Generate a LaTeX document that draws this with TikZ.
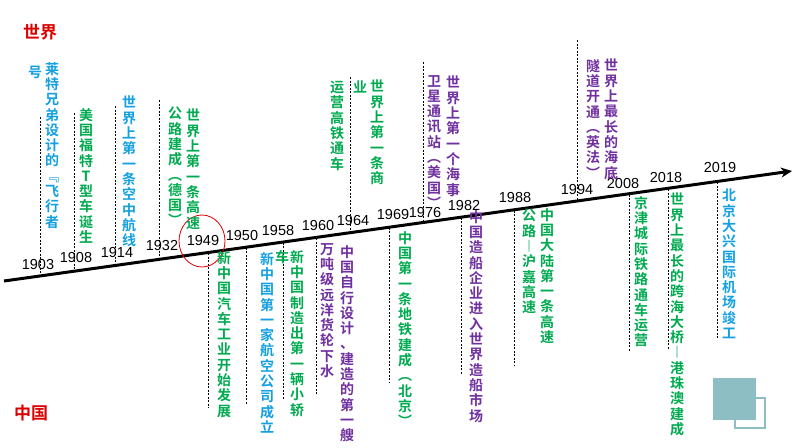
\documentclass[tikz,border=0pt]{standalone}
\usepackage{fontspec}
\setmainfont{Liberation Sans}
\newfontfamily\cjkb[BoldFont=*]{Noto Sans CJK SC Bold}
\usetikzlibrary{arrows.meta}
\makeatletter
\def\vt#1{\vt@@#1\relax}
\def\vt@@#1{#1\vt@}
\def\vt@#1{\ifx\relax#1\expandafter\@gobble\else\expandafter\@firstofone\fi{\\#1\vt@}}
\makeatother
\definecolor{cg}{RGB}{0,170,80}
\definecolor{cb}{RGB}{20,160,225}
\definecolor{cp}{RGB}{112,48,160}
\definecolor{cr}{RGB}{220,0,0}
\definecolor{ct}{RGB}{140,190,196}
\tikzset{
 vtx/.style={anchor=north, inner sep=0pt, text width=15pt, align=center, font=\cjkb\fontsize{14}{15.3}\selectfont},
 gr/.style={vtx, text=cg}, bl/.style={vtx, text=cb}, pu/.style={vtx, text=cp},
 dl/.style={draw=black, line width=0.7pt, dash pattern=on 2pt off 1.5pt},
 yr/.style={inner sep=0pt, font=\fontsize{14.5}{15}\selectfont},
 lab/.style={inner sep=0pt, text=cr, font=\cjkb\fontsize{17}{18}\selectfont}
}
\begin{document}
\begin{tikzpicture}[x=1pt,y=-1pt]
\useasboundingbox (0,0) rectangle (794,447);
\fill[white] (0,0) rectangle (794,447);
% squares
\fill[ct] (713,378) rectangle (756,420);
\draw[white, line width=2.5pt] (735,398) rectangle (765,428);
\draw[ct, line width=1.5pt] (735,398) rectangle (765,428);
% labels
\node[lab] (world) at (40,32) {世界};
\node[lab] (china) at (31,413) {中国};
% axis
\coordinate (a0) at (4,281);
\coordinate (a1) at (792,171);
\draw[line width=3pt, -{Stealth[length=11pt,width=10pt]}] (a0) -- (a1);
% dashed lines (upper)
\foreach \n/\x/\ya/\yb in {u1/40/117/276.4, u2/74/113/271.7, u3/115/106/266, u4/159/100/259.9, u5/350/77/233.4, u6/423/62/223.2, u7/577/40/201.8}{
 \coordinate (\n t) at (\x,\ya); \coordinate (\n b) at (\x,\yb);
 \draw[dl] (\n t) -- (\n b);}
% dashed lines (lower)
\foreach \n/\x/\ya/\yb in {d1/208/253.1/408, d2/246/247.8/405, d3/283/242.7/400, d4/316/238.1/395, d5/389/227.9/383, d6/461/217.9/375, d7/514/210.6/366, d8/629/194.6/352, d9/668/189.1/350, d10/717/182.3/338}{
 \coordinate (\n t) at (\x,\ya); \coordinate (\n b) at (\x,\yb);
 \draw[dl] (\n t) -- (\n b);}
% years
\node[yr] (y1903) at (38,265) {1903};
\node[yr] (y1908) at (76,258) {1908};
\node[yr] (y1914) at (117,253) {1914};
\node[yr] (y1932) at (162,246) {1932};
\node[yr] (y1949) at (203,241) {1949};
\node[yr] (y1950) at (242,236) {1950};
\node[yr] (y1958) at (278,231) {1958};
\node[yr] (y1960) at (318,226) {1960};
\node[yr] (y1964) at (353,221) {1964};
\node[yr] (y1969) at (393,215) {1969};
\node[yr] (y1976) at (425,213) {1976};
\node[yr] (y1982) at (464,206) {1982};
\node[yr] (y1988) at (515,198) {1988};
\node[yr] (y1994) at (577,190) {1994};
\node[yr] (y2008) at (623,184) {2008};
\node[yr] (y2018) at (666,178) {2018};
\node[yr] (y2019) at (720,168) {2019};
\draw[cr, line width=0.8pt] (202,241) ellipse (23pt and 26pt);
% upper texts
\node[bl] (t1) at (52,62) {\vt{莱特兄弟设计的﹃飞行者}};
\node[bl] (t1b) at (35,66) {号};
\node[gr] (t2) at (86,108) {\vt{美国福特T型车诞生}};
\node[bl] (t3) at (129,96) {\vt{世界上第一条空中航线}};
\node[gr] (t4) at (193,109) {\vt{世界上第一条高速}};
\node[gr] (t4b) at (175,107) {\vt{公路建成︵德国︶}};
\node[gr] (t5) at (377,80) {\vt{世界上第一条商}};
\node[gr] (t5m) at (360,81) {业};
\node[gr] (t5b) at (337,81) {\vt{运营高铁通车}};
\node[pu] (t6) at (453,76) {\vt{世界上第一个海事}};
\node[pu] (t6b) at (434,75) {\vt{卫星通讯站︵美国︶}};
\node[pu] (t7) at (611,59) {\vt{世界上最长的海底}};
\node[pu] (t7b) at (593,59) {\vt{隧道开通︵英法︶}};
% lower texts
\node[gr] (b1) at (224,251) {\vt{新中国汽车工业开始发展}};
\node[bl] (b2) at (267,252) {\vt{新中国第一家航空公司成立}};
\node[gr] (b3c) at (282,250) {车};
\node[gr] (b3) at (297,250) {\vt{新中国制造出第一辆小轿}};
\node[pu] (b4) at (347,245) {\vt{中国自行设计、建造的第一艘}};
\node[pu] (b4b) at (327,243) {\vt{万吨级远洋货轮下水}};
\node[gr] (b5) at (405,231) {\vt{中国第一条地铁建成︵北京︶}};
\node[pu] (b6) at (476,210) {\vt{中国造船企业进入世界造船市场}};
\node[gr] (b7) at (547,208) {\vt{中国大陆第一条高速}};
\node[gr] (b7b) at (529,209) {\vt{公路︱沪嘉高速}};
\node[gr] (b8) at (641,196) {\vt{京津城际铁路通车运营}};
\node[gr] (b9) at (677,193) {\vt{世界上最长的跨海大桥︱港珠澳建成}};
\node[bl] (b10) at (729,189) {\vt{北京大兴国际机场竣工}};
\end{tikzpicture}
\end{document}
